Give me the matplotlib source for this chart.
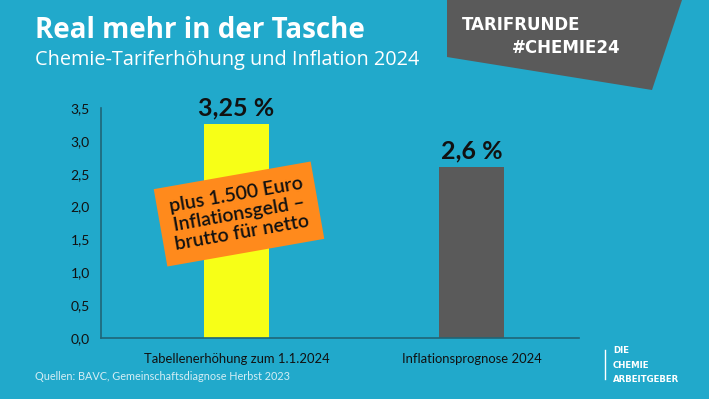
import matplotlib.pyplot as plt
from matplotlib.patches import Polygon

# data
categories = ["Tabellenerhöhung zum 1.1.2024", "Inflationsprognose 2024"]
values = [3.25, 2.6]
value_labels = ["3,25 %", "2,6 %"]
bar_colors = ["#F7FF17", "#5A5A5A"]
yticks = [0.0, 0.5, 1.0, 1.5, 2.0, 2.5, 3.0, 3.5]
ytick_labels = ["0,0", "0,5", "1,0", "1,5", "2,0", "2,5", "3,0", "3,5"]

BG = "#21A9CB"
FONT = "Lato"

fig = plt.figure(figsize=(7.09, 3.99), dpi=100, facecolor=BG)

# top-right grey banner
banner = Polygon([(447 / 709, 1), (682 / 709, 1), (652 / 709, 1 - 90 / 399),
                  (447 / 709, 1 - 57 / 399)], closed=True,
                 transform=fig.transFigure, facecolor="#5A5A5A", edgecolor="none")
fig.patches.append(banner)
fig.text(462 / 709, 1 - 25 / 399, "TARIFRUNDE", color="white", fontsize=12,
         fontweight="bold", family="DejaVu Sans", va="center", ha="left")
fig.text(512 / 709, 1 - 48 / 399, "#CHEMIE24", color="white", fontsize=12,
         fontweight="bold", family="DejaVu Sans", va="center", ha="left")

# titles
fig.text(35 / 709, 1 - 31 / 399, "Real mehr in der Tasche", color="white",
         fontsize=20, fontweight="bold", family="Open Sans", va="center")
fig.text(35 / 709, 1 - 60 / 399, "Chemie-Tariferhöhung und Inflation 2024",
         color="white", fontsize=14.3, family="Open Sans", va="center")

ax = fig.add_axes([101 / 709, 1 - 338 / 399, 478 / 709, 230 / 399])
ax.set_facecolor(BG)
x = [0, 1]
ax.bar(x, values, width=0.277, color=bar_colors)
for xi, v, lab in zip(x, values, value_labels):
    ax.text(xi, v + 0.07, lab, ha="center", va="bottom", fontsize=18,
            fontweight="bold", family=FONT, color="#111111")

ax.set_xlim(-0.577, 1.457)
ax.set_ylim(0, 3.5)
ax.set_yticks(yticks)
ax.set_yticklabels(ytick_labels, family=FONT, fontsize=10, color="#111111")
ax.set_xticks(x)
ax.set_xticklabels(categories, family=FONT, fontsize=9.4, color="#111111")
ax.tick_params(axis="both", length=0, pad=8)
ax.tick_params(axis="x", pad=11)
for s in ["top", "right"]:
    ax.spines[s].set_visible(False)
for s in ["left", "bottom"]:
    ax.spines[s].set_color("#1F6578")
    ax.spines[s].set_linewidth(1.2)

# orange sticker
fig.text(239 / 709, 1 - 214 / 399, "plus 1.500 Euro\nInflationsgeld –\nbrutto für netto",
         ha="center", va="center", rotation=10, rotation_mode="anchor",
         fontsize=14, fontweight="semibold", family=FONT, color="#111111",
         linespacing=1.15,
         bbox=dict(boxstyle="square,pad=0.6", facecolor="#FF8A1C", edgecolor="none"))

# footer
fig.text(35 / 709, 1 - 376 / 399, "Quellen: BAVC, Gemeinschaftsdiagnose Herbst 2023",
         color="#D4EEF5", fontsize=7.8, family=FONT, va="center")
fig.lines.append(plt.Line2D([605 / 709, 605 / 709], [1 - 350 / 399, 1 - 379 / 399],
                            transform=fig.transFigure, color="white", linewidth=1))
fig.text(613 / 709, 1 - 365 / 399, "DIE\nCHEMIE\nARBEITGEBER", color="white",
         fontsize=6.2, fontweight="bold", family="DejaVu Sans", va="center",
         linespacing=1.75)

fig.savefig("out.png", dpi=100, facecolor=BG)
